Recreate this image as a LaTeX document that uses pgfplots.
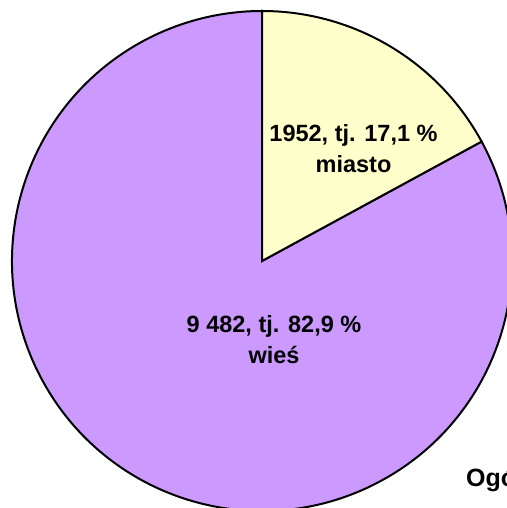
\documentclass[border=0pt]{standalone}
\usepackage{pgfplots}
\pgfplotsset{compat=1.18}
\usepackage{fontspec}
\setmainfont{Liberation Sans}
\definecolor{miastoc}{HTML}{FFFFCC}
\definecolor{wiesc}{HTML}{CC99FF}

% liczba ludności
\def\miasto{1952}
\def\wies{9482}
\pgfmathsetmacro\endM{90-360*(\miasto/(\miasto+\wies))}

\begin{document}
\begin{tikzpicture}
\clip (0,0) rectangle (507bp,508bp);
\begin{axis}[
  scale only axis, width=507bp, height=508bp,
  xmin=-262, xmax=245, ymin=-247, ymax=261,
  hide axis, clip=false,
]
\filldraw[fill=wiesc, line width=2bp] (axis cs:0,0) -- ++(\endM:250bp)
  arc[start angle=\endM, end angle=-270, radius=250bp] -- cycle;
\filldraw[fill=miastoc, line width=2bp] (axis cs:0,0) -- ++(90:250bp)
  arc[start angle=90, end angle=\endM, radius=250bp] -- cycle;
\node[align=center, inner sep=0pt, font=\fontsize{23.5bp}{31bp}\selectfont\bfseries]
  at (axis cs:91.5,112) {1952, tj. 17,1 \%\\miasto};
\node[align=center, inner sep=0pt, font=\fontsize{23.5bp}{31bp}\selectfont\bfseries]
  at (axis cs:12,-79) {9 482, tj. 82,9 \%\\wieś};
\node[anchor=base west, inner sep=0pt, font=\fontsize{25bp}{30bp}\selectfont\bfseries]
  at (axis cs:204,-225) {Ogółem};
\end{axis}
\end{tikzpicture}
\end{document}
